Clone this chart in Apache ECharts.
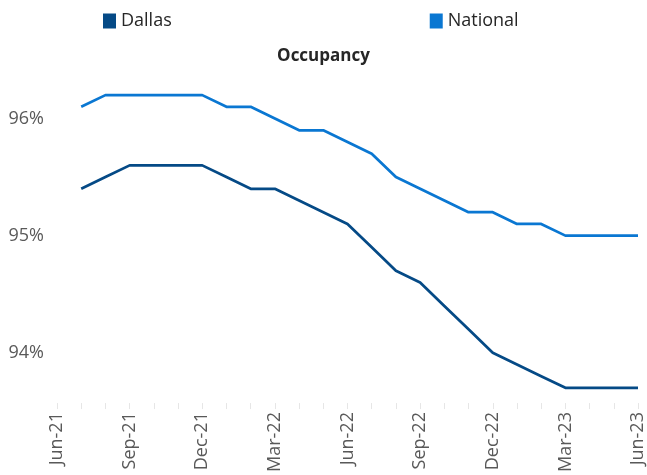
<!DOCTYPE html>
<html>
<head>
<meta charset="utf-8">
<script src="https://cdn.jsdelivr.net/npm/echarts@6/dist/echarts.min.js"></script>
<style>html,body{margin:0;padding:0;background:#fff;}#c{width:647px;height:475px;}</style>
</head>
<body>
<div id="c"></div>
<script>
var months = ['Jun-21','Jul-21','Aug-21','Sep-21','Oct-21','Nov-21','Dec-21',
  'Jan-22','Feb-22','Mar-22','Apr-22','May-22','Jun-22','Jul-22','Aug-22','Sep-22','Oct-22','Nov-22','Dec-22',
  'Jan-23','Feb-23','Mar-23','Apr-23','May-23','Jun-23'];
var dallas = [null, 95.4, 95.5, 95.6, 95.6, 95.6, 95.6,
  95.5, 95.4, 95.4, 95.3, 95.2, 95.1, 94.9, 94.7, 94.6, 94.4, 94.2, 94.0,
  93.9, 93.8, 93.7, 93.7, 93.7, 93.7];
var national = [null, 96.1, 96.2, 96.2, 96.2, 96.2, 96.2,
  96.1, 96.1, 96.0, 95.9, 95.9, 95.8, 95.7, 95.5, 95.4, 95.3, 95.2, 95.2,
  95.1, 95.1, 95.0, 95.0, 95.0, 95.0];
var seriesNames = ['Dallas', 'National'];
var title = 'Occupancy';

var chart = echarts.init(document.getElementById('c'), null, {renderer: 'canvas'});
var font = '"Open Sans", "Liberation Sans", sans-serif';
chart.setOption({
  animation: false,
  backgroundColor: '#ffffff',
  title: {
    text: title, left: 'center', top: 43,
    textStyle: {fontFamily: font, fontSize: 17, fontWeight: 'bold', color: '#262626'}
  },
  legend: {
    data: seriesNames, left: 98, top: 7, icon: 'rect',
    itemWidth: 13, itemHeight: 15, itemGap: 258,
    textStyle: {fontFamily: font, fontSize: 18, color: '#262626', padding: [0, 0, 0, 0]}
  },
  grid: {left: 57, right: 7, top: 60, bottom: 68, containLabel: false},
  xAxis: {
    type: 'category', data: months, boundaryGap: false,
    axisLine: {show: false},
    axisTick: {show: true, interval: 0, length: 6, lineStyle: {color: '#e6e6e6', width: 1}},
    axisLabel: {interval: 2, rotate: 90, margin: 9, fontFamily: font, fontSize: 18, color: '#595959'},
    splitLine: {show: false}
  },
  yAxis: {
    type: 'value', min: 93.57, max: 96.5, splitNumber: 3,
    axisLine: {show: false},
    axisTick: {show: false},
    splitLine: {show: false},
    axisLabel: {
      showMinLabel: false, showMaxLabel: false, margin: 13,
      fontFamily: font, fontSize: 18, color: '#595959',
      formatter: function (v) { return Math.abs(v - Math.round(v)) < 1e-6 ? Math.round(v) + '%' : ''; }
    }
  },
  series: [
    {name: seriesNames[0], type: 'line', data: dallas, symbol: 'none', connectNulls: false,
     lineStyle: {color: '#054a86', width: 2.75}, itemStyle: {color: '#054a86'}},
    {name: seriesNames[1], type: 'line', data: national, symbol: 'none', connectNulls: false,
     lineStyle: {color: '#0a77d2', width: 2.75}, itemStyle: {color: '#0a77d2'}}
  ]
});
</script>
</body>
</html>
